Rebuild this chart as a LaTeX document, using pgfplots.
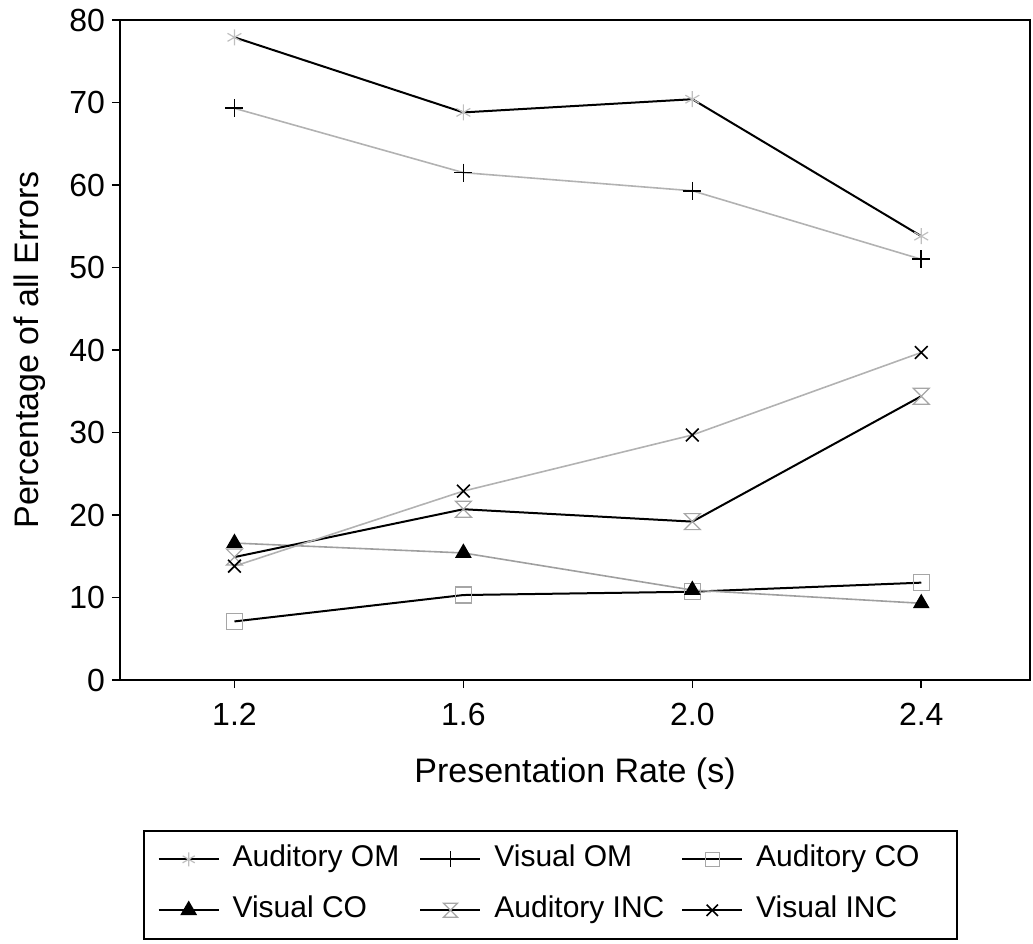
\documentclass[border=0pt]{standalone}
\usepackage{pgfplots}
\pgfplotsset{compat=1.18}
\usepackage{fontspec}
\setmainfont{Liberation Sans}
\pgfdeclareplotmark{hourglass}{%
  \pgfpathmoveto{\pgfpoint{-\pgfplotmarksize}{\pgfplotmarksize}}%
  \pgfpathlineto{\pgfpoint{\pgfplotmarksize}{\pgfplotmarksize}}%
  \pgfpathlineto{\pgfpoint{-\pgfplotmarksize}{-\pgfplotmarksize}}%
  \pgfpathlineto{\pgfpoint{\pgfplotmarksize}{-\pgfplotmarksize}}%
  \pgfpathclose
  \pgfusepathqstroke}
\begin{document}
\begin{tikzpicture}
\path[use as bounding box] (-60pt,-131.5pt) rectangle (456.5pt,340pt);
\begin{axis}[
  scale only axis, width=455pt, height=330pt,
  xmin=1.0, xmax=2.59, ymin=0, ymax=80,
  xtick={1.2,1.6,2.0,2.4}, xticklabels={1.2,1.6,2.0,2.4},
  ytick={0,10,...,80},
  tick pos=left, tick align=outside, major tick length=4pt,
  axis line style={line width=1pt},
  every tick/.style={line width=0.8pt,black},
  /pgf/number format/assume math mode=true,
  ticklabel style={font=\fontsize{16}{19}\selectfont},
  xticklabel style={yshift=-4pt},
  xlabel={Presentation Rate (s)}, ylabel={Percentage of all Errors},
  label style={font=\fontsize{17}{20}\selectfont},
  xlabel style={at={(axis description cs:0.5,-0.155)}, anchor=base},
  ylabel style={at={(axis description cs:-0.099,0.5)}, anchor=center},
  legend columns=3,
  legend cell align=left,
  legend style={at={(axis description cs:0.02527,-0.2273)}, anchor=north west,
    draw=black, line width=0.8pt, inner xsep=7pt, inner ysep=7.5pt,
    font=\fontsize{15}{18}\selectfont, column sep=0pt, row sep=12pt,
    nodes={inner sep=0pt, text height=10.5pt, text depth=3pt},
    /tikz/every odd column/.append style={column sep=6.5pt}},
  legend image code/.code={\draw[mark repeat=2,mark phase=2,#1] plot coordinates {(0pt,0pt)(15pt,0pt)(30pt,0pt)};},
]
\addplot[black, line width=1pt, mark=asterisk, mark size=4pt, mark options={gray!50, line width=0.6pt}, forget plot]
  coordinates {(1.2,77.9)(1.6,68.8)(2.0,70.4)(2.4,53.8)};
\addplot[gray!60, line width=0.8pt, mark=+, mark size=4.5pt, mark options={black, line width=0.8pt}, forget plot]
  coordinates {(1.2,69.3)(1.6,61.5)(2.0,59.3)(2.4,51.0)};
\addplot[black, line width=1pt, mark=square, mark size=4pt, mark options={gray!70, line width=0.6pt}, forget plot]
  coordinates {(1.2,7.1)(1.6,10.3)(2.0,10.7)(2.4,11.8)};
\addplot[gray!75, line width=0.8pt, mark=triangle*, mark size=4pt, mark options={black, fill=black}, forget plot]
  coordinates {(1.2,16.6)(1.6,15.4)(2.0,10.9)(2.4,9.3)};
\addplot[black, line width=1pt, mark=hourglass, mark size=4pt, mark options={gray!70, line width=0.6pt}, forget plot]
  coordinates {(1.2,14.9)(1.6,20.7)(2.0,19.2)(2.4,34.4)};
\addplot[gray!60, line width=0.8pt, mark=x, mark size=4.5pt, mark options={black, line width=0.8pt}, forget plot]
  coordinates {(1.2,13.8)(1.6,22.9)(2.0,29.7)(2.4,39.7)};
\addlegendimage{black, line width=0.9pt, mark=asterisk, mark size=3.5pt, mark options={gray!50, line width=0.6pt}}
\addlegendentry{\makebox[93.5pt][l]{Auditory OM}}
\addlegendimage{black, line width=0.9pt, mark=+, mark size=4pt, mark options={black, line width=0.8pt}}
\addlegendentry{\makebox[93.5pt][l]{Visual OM}}
\addlegendimage{black, line width=0.9pt, mark=square, mark size=3.5pt, mark options={gray!70, line width=0.6pt}}
\addlegendentry{\makebox[93.5pt][l]{Auditory CO}}
\addlegendimage{black, line width=0.9pt, mark=triangle*, mark size=4pt, mark options={black, fill=black}}
\addlegendentry{\makebox[93.5pt][l]{Visual CO}}
\addlegendimage{black, line width=0.9pt, mark=hourglass, mark size=3.5pt, mark options={gray!70, line width=0.6pt}}
\addlegendentry{\makebox[93.5pt][l]{Auditory INC}}
\addlegendimage{black, line width=0.9pt, mark=x, mark size=4pt, mark options={black, line width=0.8pt}}
\addlegendentry{\makebox[93.5pt][l]{Visual INC}}
\end{axis}
\end{tikzpicture}
\end{document}
